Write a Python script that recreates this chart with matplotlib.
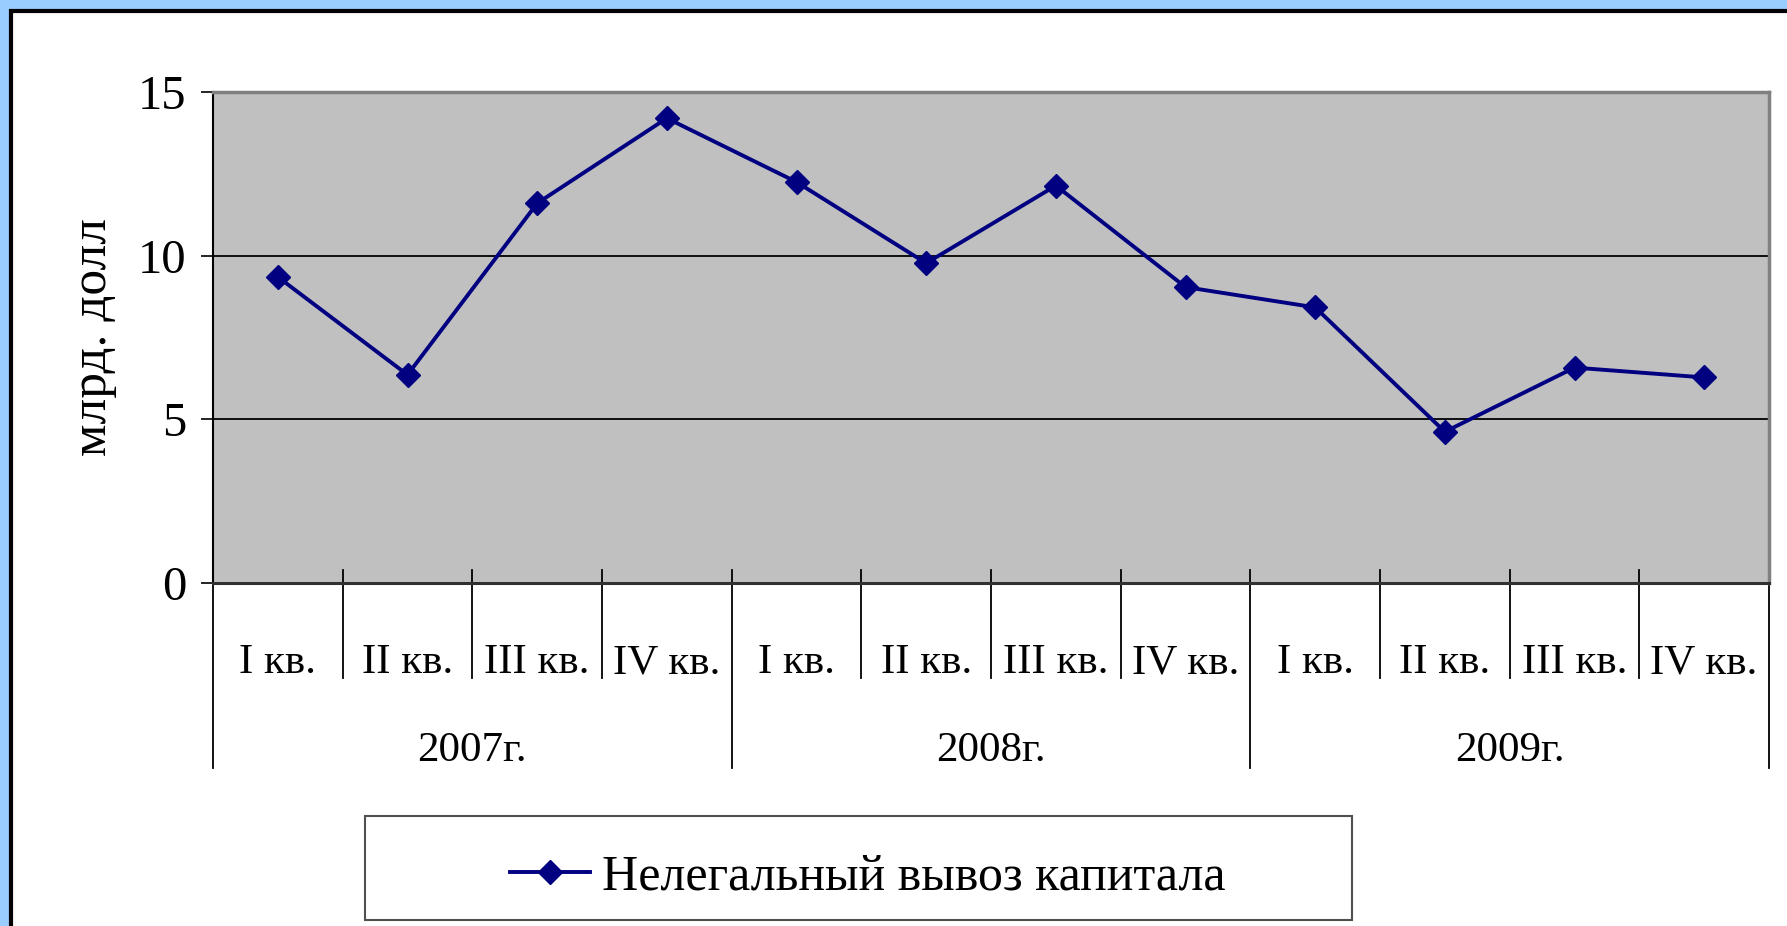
import numpy as np
import matplotlib
matplotlib.use("Agg")
import matplotlib.pyplot as plt
from matplotlib.patches import Rectangle

# data
years = ["2007г.", "2008г.", "2009г."]
quarters = ["I кв.", "II кв.", "III кв.", "IV кв."]
values = [9.35, 6.36, 11.6, 14.2, 12.25, 9.77, 12.14, 9.04, 8.42, 4.62, 6.58, 6.28]
series_name = "Нелегальный вывоз капитала"
y_label = "млрд. долл"
y_ticks = [0, 5, 10, 15]

plt.rcParams["font.family"] = ["Liberation Serif", "DejaVu Serif"]

W, H = 1787, 926
fig = plt.figure(figsize=(W / 100, H / 100), dpi=100)
fig.patch.set_facecolor("#99CCFF")

# white slide frame with a black edge (runs off right and bottom)
fig.patches.append(Rectangle((11 / W, -0.05), 1.1, 1 - 11 / H + 0.05,
                             transform=fig.transFigure, facecolor="white",
                             edgecolor="black", linewidth=3, zorder=0))

ax = fig.add_axes([213 / W, 1 - 583 / H, (1769 - 213) / W, (583 - 92) / H])
ax.set_zorder(5)
ax.set_facecolor("#C0C0C0")

n = len(values)
x = np.arange(n) + 0.5
ax.plot(x, values, color="#000080", linewidth=2.8, marker="D", markersize=12.5,
        markerfacecolor="#000080", markeredgecolor="#000080", zorder=3,
        label=series_name)

ax.set_xlim(0, n)
ax.set_ylim(0, 15)
ax.set_yticks(y_ticks)
ax.tick_params(axis="y", direction="out", length=9, width=1.2, labelsize=35, pad=10)
ax.set_xticks([])
for v in y_ticks[1:-1]:
    ax.axhline(v, color="black", linewidth=1.3, zorder=1)

for side in ["top", "right"]:
    ax.spines[side].set_color("#808080")
    ax.spines[side].set_linewidth(2.5)
ax.spines["left"].set_color("black")
ax.spines["left"].set_linewidth(1.5)
ax.spines["bottom"].set_color("#303030")
ax.spines["bottom"].set_linewidth(2.2)

ax.set_ylabel(y_label, fontsize=37)
ax.yaxis.set_label_coords(-0.062, 0.5)

# two-level category axis
trans = ax.get_xaxis_transform()
quarter_depth = -95 / 491
year_depth = -185 / 491
for i in range(n + 1):
    bottom = year_depth if i % len(quarters) == 0 else quarter_depth
    ax.plot([i, i], [13 / 491, bottom], transform=trans, color="black",
            linewidth=1.3, clip_on=False)
for i in range(n):
    ax.text(x[i], -80 / 491, quarters[i % len(quarters)], transform=trans,
            ha="center", va="center", fontsize=31)
for j, yr in enumerate(years):
    cx = (j + 0.5) * len(quarters)
    ax.text(cx, -168 / 491, yr, transform=trans, ha="center", va="center",
            fontsize=31)

# legend box
fig.patches.append(Rectangle((365 / W, 1 - 920 / H), 987 / W, 104 / H,
                             transform=fig.transFigure, facecolor="white",
                             edgecolor="#505050", linewidth=1.5, zorder=1))
leg = fig.legend(loc="center", bbox_to_anchor=((522 + 1214) / 2 / W, 1 - 877 / H),
                 frameon=False, fontsize=36, handlelength=1.6, handletextpad=0.25)
leg.set_zorder(6)

fig.savefig("out.png", dpi=100, facecolor=fig.get_facecolor())
